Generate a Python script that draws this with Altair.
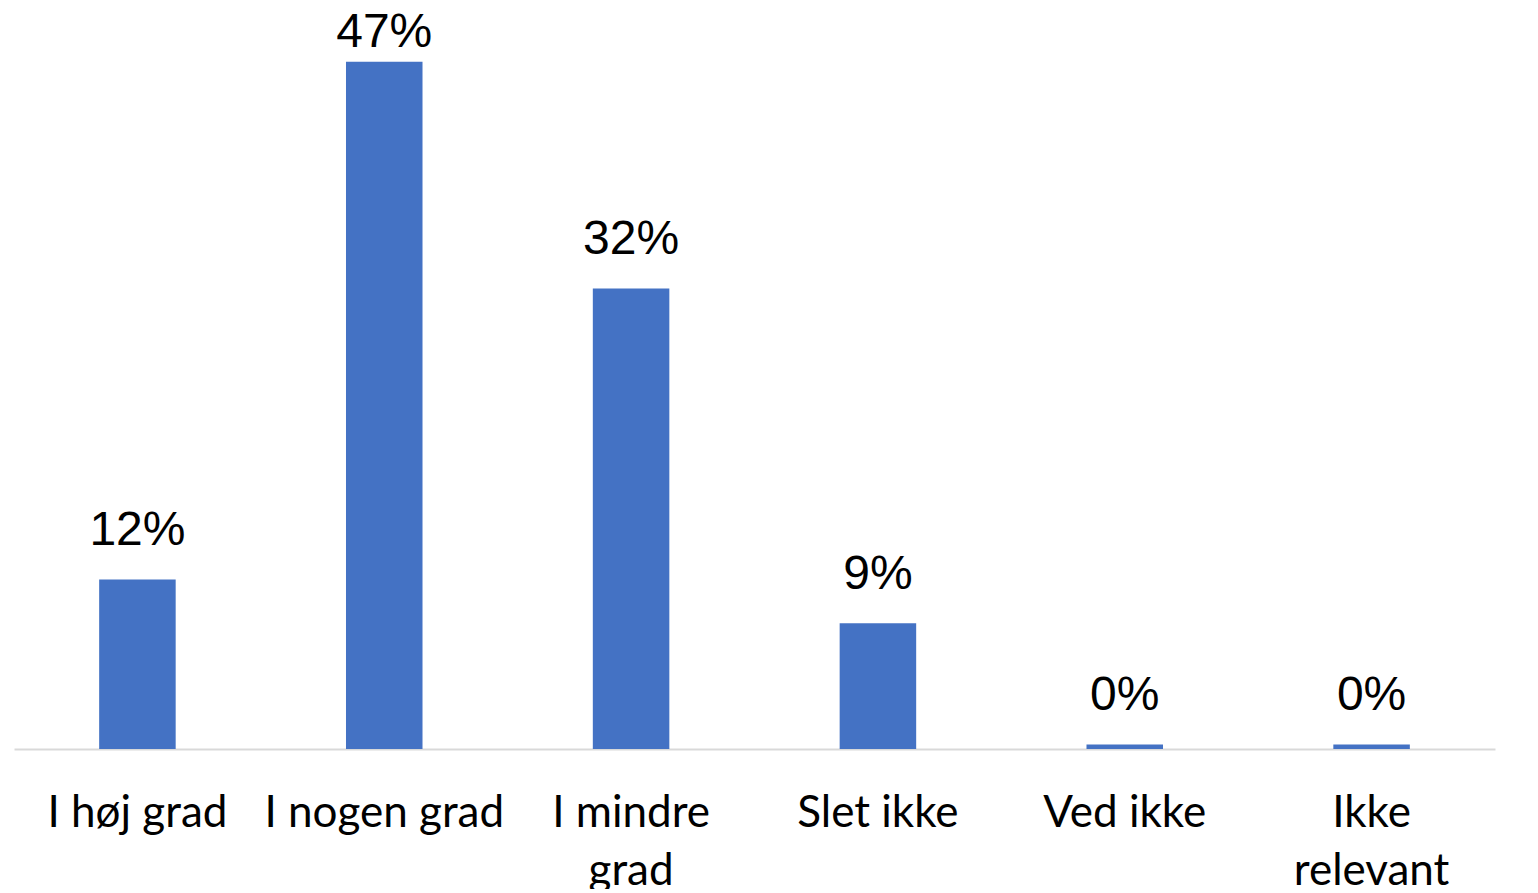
import altair as alt
import pandas as pd

categories = ["I høj grad", "I nogen grad", "I mindre grad", "Slet ikke", "Ved ikke", "Ikke relevant"]
values = [11.6, 47.0, 31.5, 8.6, 0.3, 0.3]
labels = ["12%", "47%", "32%", "9%", "0%", "0%"]

df = pd.DataFrame({"cat": categories, "val": values, "lab": labels})

x = alt.X("cat:N", sort=categories, title=None,
          scale=alt.Scale(paddingInner=0.69, paddingOuter=0.345),
          axis=alt.Axis(
              labelAngle=0, labelFont="Lato", labelFontSize=44, labelColor="#000000",
              labelLineHeight=58, labelPadding=42, ticks=False,
              domainColor="#d9d9d9", domainWidth=2, labelLimit=400,
              labelExpr="datum.label == 'I mindre grad' ? ['I mindre', 'grad'] : datum.label == 'Ikke relevant' ? ['Ikke', 'relevant'] : datum.label"))
yscale = alt.Scale(domain=[0, 50])

bars = alt.Chart(df).mark_bar(color="#4472C4").encode(
    x=x, y=alt.Y("val:Q", scale=yscale, axis=None))
text = alt.Chart(df).transform_calculate(
    ly="min(datum.val + 2.35, 48.0)"
).mark_text(font="Liberation Sans", fontSize=48, color="#000000",
            baseline="alphabetic").encode(
    x=x, y=alt.Y("ly:Q", scale=yscale, axis=None), text="lab:N")

chart = (bars + text).properties(
    width=1481, height=731,
    background="#ffffff",
    autosize=alt.AutoSizeParams(type="none"),
    padding={"left": 6, "top": 10, "right": 30, "bottom": 140},
).configure_view(strokeWidth=0)

chart.save("out.html", embed_options={"renderer": "svg", "actions": False})
